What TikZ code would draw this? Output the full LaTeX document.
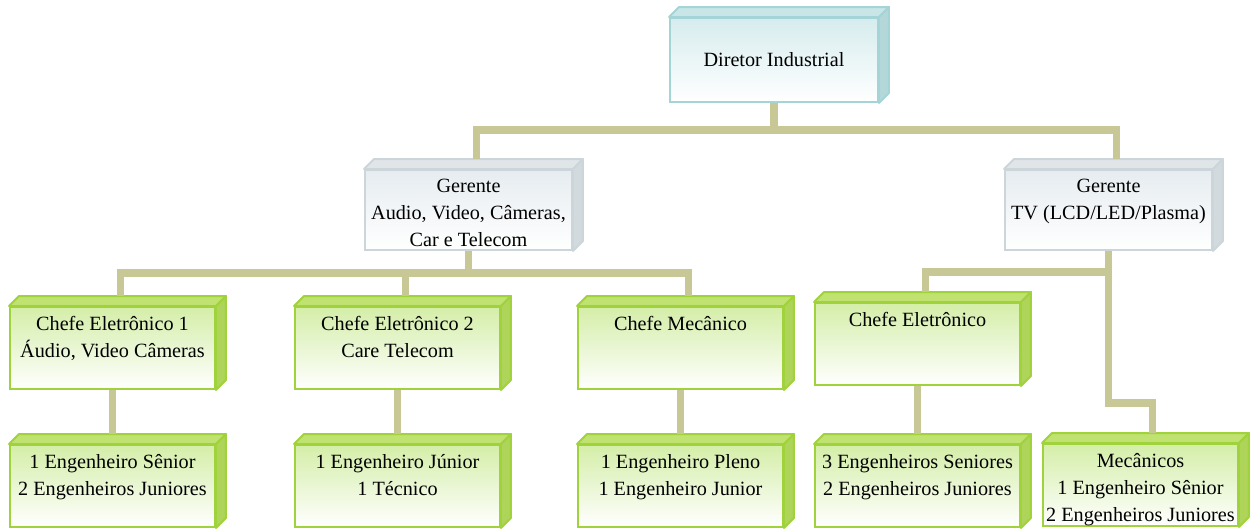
\documentclass[tikz,border=0pt]{standalone}
\usepackage{fontspec}
\setmainfont{Liberation Serif}
\usepackage{tikz}

\definecolor{linkkhaki}{RGB}{200,200,150}
\definecolor{dirline}{RGB}{165,212,214}
\definecolor{dirtop}{RGB}{200,230,232}
\definecolor{dirside}{RGB}{180,216,218}
\definecolor{dirfill}{RGB}{214,236,238}
\definecolor{gerline}{RGB}{204,214,218}
\definecolor{gertop}{RGB}{224,230,232}
\definecolor{gerside}{RGB}{210,218,222}
\definecolor{gerfill}{RGB}{230,236,240}
\definecolor{chefline}{RGB}{160,210,60}
\definecolor{cheftop}{RGB}{192,226,112}
\definecolor{chefside}{RGB}{174,212,90}
\definecolor{cheffill}{RGB}{212,238,168}

\tikzset{
  orgbox/.style={rectangle, draw=#1line, line width=1.1pt, top color=#1fill, bottom color=white,
    minimum width=4.1cm, minimum height=1.64cm, inner sep=0pt},
  toptext/.style={anchor=north, align=center, inner sep=0pt, yshift=-5.5pt},
  link/.style={draw=linkkhaki, line width=4pt},
}

% top and right faces of a box
\newcommand\boxsides[2]{%
  \filldraw[fill=#2top, draw=#2line, line width=1.1pt, line join=round]
    (#1.north west) -- ++(10,-10) -- ([shift={(10,-10)}]#1.north east) -- (#1.north east) -- cycle;
  \filldraw[fill=#2side, draw=#2line, line width=1.1pt, line join=round]
    (#1.north east) -- ++(10,-10) -- ([shift={(10,-10)}]#1.south east) -- (#1.south east) -- cycle;
}

\begin{document}
\begin{tikzpicture}[x=0.02cm, y=-0.02cm, font=\fontsize{11.5pt}{15.5pt}\selectfont]
  \useasboundingbox (0,0) rectangle (1255,528);

  % boxes
  \node[orgbox=dir, minimum width=4.16cm, minimum height=1.68cm] (dir) at (774,60) {Diretor Industrial};
  \boxsides{dir}{dir}

  \node[orgbox=ger, minimum width=4.14cm, minimum height=1.6cm,
    label={[toptext]north:Gerente\\Audio, Video, Câmeras,\\Car e Telecom}] (ger1) at (468.5,210) {};
  \boxsides{ger1}{ger}
  \node[orgbox=ger, minimum width=4.14cm, minimum height=1.6cm,
    label={[toptext]north:Gerente\\TV (LCD/LED/Plasma)}] (ger2) at (1108.5,210) {};
  \boxsides{ger2}{ger}

  \node[orgbox=chef, label={[toptext]north:Chefe Eletrônico 1\\Áudio, Video Câmeras}] (chef1) at (112.5,348) {};
  \boxsides{chef1}{chef}
  \node[orgbox=chef, label={[toptext]north:Chefe Eletrônico 2\\Care Telecom}] (chef2) at (397.5,348) {};
  \boxsides{chef2}{chef}
  \node[orgbox=chef, label={[toptext]north:Chefe Mecânico}] (chefmec) at (680.5,348) {};
  \boxsides{chefmec}{chef}
  \node[orgbox=chef, label={[toptext]north:Chefe Eletrônico}] (chefel) at (917.5,344) {};
  \boxsides{chefel}{chef}

  \node[orgbox=chef, label={[toptext]north:1 Engenheiro Sênior\\2 Engenheiros Juniores}] (eng1) at (112.5,486) {};
  \boxsides{eng1}{chef}
  \node[orgbox=chef, label={[toptext]north:1 Engenheiro Júnior\\1 Técnico}] (eng2) at (397.5,486) {};
  \boxsides{eng2}{chef}
  \node[orgbox=chef, label={[toptext]north:1 Engenheiro Pleno\\1 Engenheiro Junior}] (eng3) at (680.5,486) {};
  \boxsides{eng3}{chef}
  \node[orgbox=chef, label={[toptext]north:3 Engenheiros Seniores\\2 Engenheiros Juniores}] (eng4) at (917.5,486) {};
  \boxsides{eng4}{chef}
  \node[orgbox=chef, minimum width=3.9cm,
    label={[toptext]north:Mecânicos\\1 Engenheiro Sênior\\2 Engenheiros Juniores}] (mecs) at (1140.5,485) {};
  \boxsides{mecs}{chef}

  % connectors
  \coordinate (bar1) at (dir.south |- 0,130);
  \coordinate (bar2) at (ger1.south |- 0,273);
  \coordinate (bar3) at (ger2.south |- 0,272);
  \coordinate (bend) at (ger2.south |- 0,403);
  \draw[link] (dir.south) -- (bar1);
  \draw[link] ([shift={(8,-10)}]ger1.north) |- (bar1) -| ([shift={(8,-10)}]ger2.north);
  \draw[link] (ger1.south) -- (bar2);
  \draw[link] ([shift={(8,-10)}]chef1.north) |- (bar2) -| ([shift={(8,-10)}]chefmec.north);
  \draw[link] ([shift={(8,-10)}]chef2.north) |- (bar2);
  \draw[link] (ger2.south) -- (bend) -| ([shift={(12,-10)}]mecs.north);
  \draw[link] (bar3) -| ([shift={(8,-10)}]chefel.north);
  \foreach \a/\b in {chef1/eng1, chef2/eng2, chefmec/eng3, chefel/eng4}
    \draw[link] (\a.south) -- ([shift={(0,-10)}]\b.north);
\end{tikzpicture}
\end{document}
